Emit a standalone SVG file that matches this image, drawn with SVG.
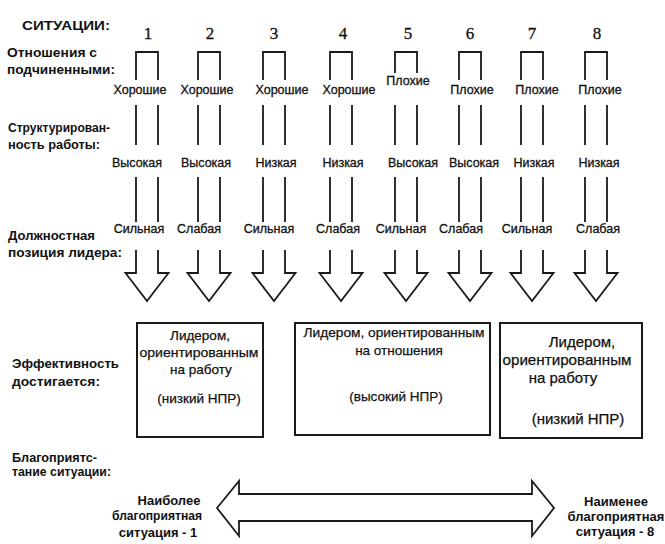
<svg xmlns="http://www.w3.org/2000/svg" width="665" height="544" viewBox="0 0 665 544">
<style>
.bg{fill:#fff}
.ln{fill:none;stroke:#1a1a1a;stroke-width:1.8;stroke-linejoin:miter}
.hd{font-family:"Liberation Sans",Arial,sans-serif;font-weight:bold;font-size:13px;fill:#111}
.num{font-family:"Liberation Serif","Times New Roman",serif;font-size:17px;fill:#111;text-anchor:middle;stroke:#111;stroke-width:0.3}
.lb{font-family:"Liberation Sans",Arial,sans-serif;font-size:12.5px;fill:#111;text-anchor:middle;stroke:#111;stroke-width:0.3}
.bx{font-family:"Liberation Sans",Arial,sans-serif;font-size:13.5px;fill:#111;text-anchor:middle;stroke:#111;stroke-width:0.25}
.bx3{font-size:15px}
.box{fill:none;stroke:#1a1a1a;stroke-width:2}
</style>
<defs>
<g id="col">
<path class="ln" d="M-11,80 V52 H11 V80"/>
<path class="ln" d="M-11,105 V145 M11,105 V145"/>
<path class="ln" d="M-11,177 V222 M11,177 V222"/>
<path class="ln" d="M-11,250 V273 H-21.5 L0,301 L21.5,273 H11 V250"/>
</g>
<g id="col5">
<path class="ln" d="M-11,73 V52 H11 V73"/>
<path class="ln" d="M-11,105 V145 M11,105 V145"/>
<path class="ln" d="M-11,177 V222 M11,177 V222"/>
<path class="ln" d="M-11,250 V273 H-21.5 L0,301 L21.5,273 H11 V250"/>
</g>
</defs>
<rect class="bg" x="0" y="0" width="665" height="544"/>

<g id="row-labels">
<text class="hd" x="22" y="30" font-size="17" textLength="88" lengthAdjust="spacingAndGlyphs">СИТУАЦИИ:</text>
<text class="hd" x="7" y="57" textLength="90" lengthAdjust="spacingAndGlyphs">Отношения с</text>
<text class="hd" x="7" y="74" textLength="108" lengthAdjust="spacingAndGlyphs">подчиненными:</text>
<text class="hd" x="8" y="132" textLength="102" lengthAdjust="spacingAndGlyphs">Структурирован-</text>
<text class="hd" x="8" y="149" textLength="92" lengthAdjust="spacingAndGlyphs">ность работы:</text>
<text class="hd" x="8" y="240" textLength="87" lengthAdjust="spacingAndGlyphs">Должностная</text>
<text class="hd" x="8" y="257" textLength="114" lengthAdjust="spacingAndGlyphs">позиция лидера:</text>
<text class="hd" x="12" y="368" textLength="107" lengthAdjust="spacingAndGlyphs">Эффективность</text>
<text class="hd" x="12" y="386" textLength="88" lengthAdjust="spacingAndGlyphs">достигается:</text>
<text class="hd" x="12" y="462" textLength="85" lengthAdjust="spacingAndGlyphs">Благоприятс-</text>
<text class="hd" x="12" y="476" textLength="99" lengthAdjust="spacingAndGlyphs">тание ситуации:</text>
</g>

<g id="connectors">
<use href="#col" x="147" y="0"/>
<use href="#col" x="209" y="0"/>
<use href="#col" x="274" y="0"/>
<use href="#col" x="341" y="0"/>
<use href="#col5" x="406" y="0"/>
<use href="#col" x="470" y="0"/>
<use href="#col" x="532" y="0"/>
<use href="#col" x="596" y="0"/>
<path id="scale-arrow" class="ln" stroke-width="2" d="M217,508 L239,481 V494 H532 V481 L554,508 L532,536 V521 H239 V536 Z"/>
</g>

<g id="situation-1">
<text class="num" x="148" y="39">1</text>
<text class="lb" x="140" y="94">Хорошие</text>
<text class="lb" x="137" y="167">Высокая</text>
<text class="lb" x="139" y="233">Сильная</text>
</g>
<g id="situation-2">
<text class="num" x="210" y="39">2</text>
<text class="lb" x="207" y="94">Хорошие</text>
<text class="lb" x="206" y="167">Высокая</text>
<text class="lb" x="199" y="233">Слабая</text>
</g>
<g id="situation-3">
<text class="num" x="274" y="39">3</text>
<text class="lb" x="282" y="94">Хорошие</text>
<text class="lb" x="276" y="167">Низкая</text>
<text class="lb" x="269" y="233">Сильная</text>
</g>
<g id="situation-4">
<text class="num" x="343" y="39">4</text>
<text class="lb" x="349" y="94">Хорошие</text>
<text class="lb" x="343" y="167">Низкая</text>
<text class="lb" x="338" y="233">Слабая</text>
</g>
<g id="situation-5">
<text class="num" x="408" y="39">5</text>
<text class="lb" x="408" y="85">Плохие</text>
<text class="lb" x="413" y="167">Высокая</text>
<text class="lb" x="401" y="233">Сильная</text>
</g>
<g id="situation-6">
<text class="num" x="470" y="39">6</text>
<text class="lb" x="472" y="94">Плохие</text>
<text class="lb" x="474" y="167">Высокая</text>
<text class="lb" x="461" y="233">Слабая</text>
</g>
<g id="situation-7">
<text class="num" x="532" y="39">7</text>
<text class="lb" x="537" y="94">Плохие</text>
<text class="lb" x="534" y="167">Низкая</text>
<text class="lb" x="527" y="233">Сильная</text>
</g>
<g id="situation-8">
<text class="num" x="597" y="39">8</text>
<text class="lb" x="600" y="94">Плохие</text>
<text class="lb" x="599" y="167">Низкая</text>
<text class="lb" x="598" y="233">Слабая</text>
</g>

<g id="box-task-1">
<rect class="box" x="137" y="323" width="126" height="114"/>
<text class="bx" x="200" y="340">Лидером,</text>
<text class="bx" x="199" y="357" textLength="119" lengthAdjust="spacingAndGlyphs">ориентированным</text>
<text class="bx" x="201" y="374">на работу</text>
<text class="bx" x="199" y="403">(низкий НПР)</text>
</g>
<g id="box-relations">
<rect class="box" x="295" y="323" width="195" height="112"/>
<text class="bx" x="394" y="337" textLength="181" lengthAdjust="spacingAndGlyphs">Лидером, ориентированным</text>
<text class="bx" x="399" y="355">на отношения</text>
<text class="bx" x="396" y="401">(высокий НПР)</text>
</g>
<g id="box-task-2">
<rect class="box" x="500" y="323" width="142" height="115"/>
<text class="bx bx3" x="582" y="347">Лидером,</text>
<text class="bx bx3" x="567" y="365" textLength="129" lengthAdjust="spacingAndGlyphs">ориентированным</text>
<text class="bx bx3" x="563" y="383">на работу</text>
<text class="bx bx3" x="578" y="424">(низкий НПР)</text>
</g>

<g id="end-most">
<text class="hd" x="169" y="505" font-size="12" text-anchor="middle">Наиболее</text>
<text class="hd" x="157" y="520" font-size="12" text-anchor="middle" textLength="90" lengthAdjust="spacingAndGlyphs">благоприятная</text>
<text class="hd" x="158" y="537" font-size="12" text-anchor="middle">ситуация - 1</text>
</g>
<g id="end-least">
<text class="hd" x="616" y="506" font-size="12" text-anchor="middle">Наименее</text>
<text class="hd" x="616" y="521" font-size="12" text-anchor="middle">благоприятная</text>
<text class="hd" x="615" y="536" font-size="12" text-anchor="middle">ситуация - 8</text>
</g>
</svg>
